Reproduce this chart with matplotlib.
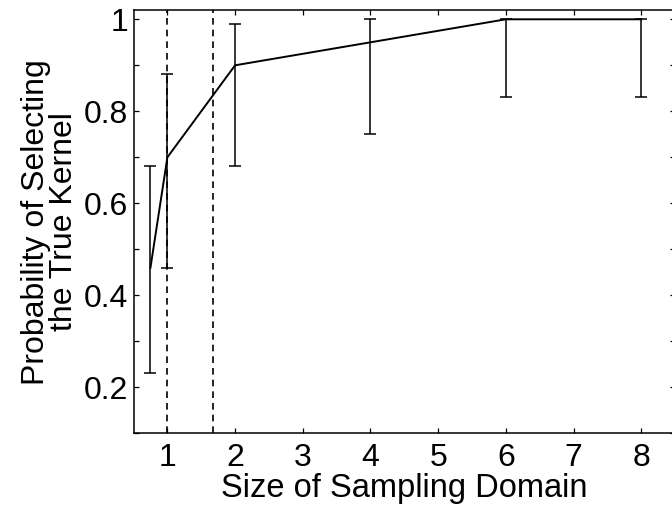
import numpy as np
import matplotlib
matplotlib.use("Agg")
import matplotlib.pyplot as plt
from matplotlib.ticker import MultipleLocator, FixedLocator

plt.rcParams['font.family'] = ['Liberation Sans', 'DejaVu Sans']

# values
domain_size = [0.75, 1, 2, 4, 6, 8]
prob_true = [0.46, 0.70, 0.90, 0.95, 1.0, 1.0]
prob_lower = [0.23, 0.46, 0.68, 0.75, 0.83, 0.83]
prob_upper = [0.68, 0.88, 0.99, 1.0, 1.0, 1.0]
dashed_x = [1.0, 1.67]
x_ticks = [1, 2, 3, 4, 5, 6, 7, 8]
y_ticks = [0.2, 0.4, 0.6, 0.8, 1.0]
y_tick_labels = ["0.2", "0.4", "0.6", "0.8", "1"]

fig = plt.figure(figsize=(6.72, 5.05), dpi=100)
ax = fig.add_axes([0.1987, 0.142, 0.806, 0.838])

y = np.array(prob_true)
yerr = [y - np.array(prob_lower), np.array(prob_upper) - y]
ax.errorbar(domain_size, prob_true, yerr=yerr, color="black", lw=1.4,
            elinewidth=1.1, capsize=4, capthick=1.1)

for xv in dashed_x:
    ax.axvline(xv, color="black", lw=1.2, ls=(0, (4, 3)))

ax.set_xlim(0.5, 8.5)
ax.set_ylim(0.1, 1.02)
ax.xaxis.set_major_locator(FixedLocator(x_ticks))
ax.set_yticks(y_ticks)
ax.set_yticklabels(y_tick_labels)
ax.yaxis.set_minor_locator(MultipleLocator(0.1))

ax.tick_params(which="both", direction="in", top=True, right=True,
               length=3.5, width=0.9, labelsize=23, pad=4)
ax.tick_params(axis="x", pad=7)
for sp in ax.spines.values():
    sp.set_linewidth(1.1)

ax.set_xlabel("Size of Sampling Domain", fontsize=23.5, labelpad=0)
ax.set_ylabel("Probability of Selecting\nthe True Kernel", fontsize=23,
              linespacing=0.95, labelpad=3)

fig.savefig("out.png", dpi=100)
